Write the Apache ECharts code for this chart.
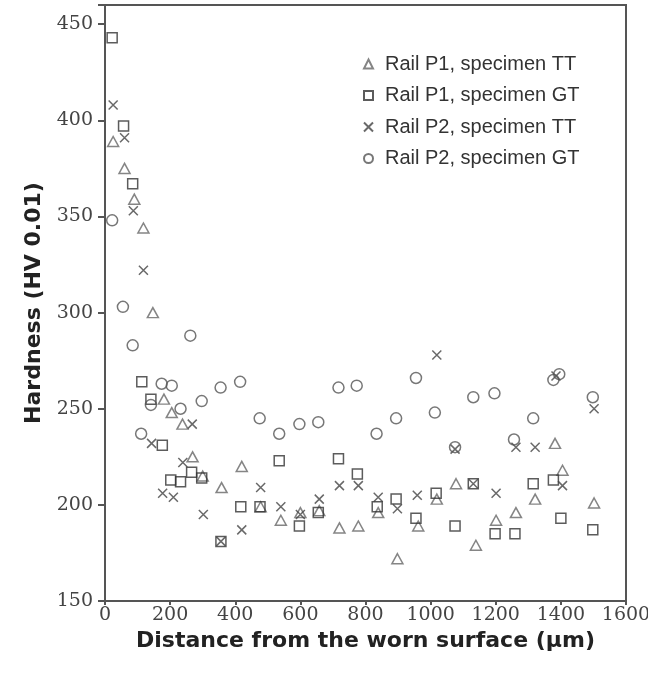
<!DOCTYPE html>
<html>
<head>
<meta charset="utf-8">
<script src="https://cdn.jsdelivr.net/npm/echarts@6/dist/echarts.min.js"></script>
<style>
  html, body { margin: 0; padding: 0; background: #fff; }
  #main { width: 648px; height: 674px; }
</style>
</head>
<body>
<div id="main"></div>
<script>
// distance (um), hardness (HV 0.01)
var p1TT = [[25,389],[60,375],[90,359],[118,344],[147,300],[181,255],[205,248],[238,242],[269,225],[300,215],
  [358,209],[420,220],[478,199],[540,192],[600,196],[658,197],[720,188],[778,189],[839,196],[898,172],
  [962,189],[1019,203],[1078,211],[1139,179],[1201,192],[1262,196],[1321,203],[1382,232],[1405,218],[1502,201]];
var p1GT = [[22,443],[57,397],[85,367],[113,264],[141,255],[176,231],[202,213],[232,212],[266,217],[297,214],
  [356,181],[417,199],[476,199],[535,223],[597,189],[655,196],[717,224],[775,216],[836,199],[894,203],
  [955,193],[1017,206],[1075,189],[1131,211],[1198,185],[1259,185],[1315,211],[1377,213],[1400,193],[1498,187]];
var p2TT = [[25,408],[60,391],[87,353],[118,322],[143,232],[177,206],[210,204],[239,222],[268,242],[302,195],
  [356,181],[420,187],[478,209],[540,199],[600,195],[658,203],[720,210],[778,210],[839,204],[898,198],
  [959,205],[1019,278],[1075,229],[1131,211],[1201,206],[1262,230],[1321,230],[1385,267],[1405,210],[1502,250]];
var p2GT = [[22,348],[55,303],[85,283],[111,237],[141,252],[174,263],[205,262],[232,250],[262,288],[297,254],
  [355,261],[415,264],[475,245],[535,237],[597,242],[655,243],[717,261],[773,262],[834,237],[894,245],
  [955,266],[1013,248],[1075,230],[1131,256],[1196,258],[1256,234],[1315,245],[1377,265],[1395,268],[1498,256]];

var seriesNames = ['Rail P1, specimen TT', 'Rail P1, specimen GT', 'Rail P2, specimen TT', 'Rail P2, specimen GT'];
var crossPath = 'path://M0,0L10,10M10,0L0,10';

function markStyle(color) {
  return { color: 'rgba(0,0,0,0)', borderColor: color, borderWidth: 1.5 };
}

var chart = echarts.init(document.getElementById('main'));
chart.setOption({
  animation: false,
  backgroundColor: '#fff',
  grid: { left: 105, right: 22, top: 5, bottom: 73, outerBoundsMode: 'none',
    show: true, borderColor: '#555', borderWidth: 2 },
  legend: {
    orient: 'vertical',
    left: 358,
    top: 49,
    itemWidth: 9,
    itemHeight: 9,
    itemGap: 11.5,
    textStyle: { fontFamily: 'Liberation Sans', fontSize: 20, lineHeight: 20, color: '#333', padding: [0, 0, 0, 7] },
    data: seriesNames
  },
  xAxis: {
    type: 'value',
    min: 0,
    max: 1600,
    interval: 200,
    name: 'Distance from the worn surface (\u03bcm)',
    nameLocation: 'middle',
    nameGap: 14,
    nameTextStyle: { fontFamily: 'DejaVu Sans', fontWeight: 'bold', fontSize: 22, color: '#222' },
    axisLine: { lineStyle: { color: '#555', width: 2 } },
    axisTick: { length: 4, lineStyle: { color: '#555', width: 2 } },
    axisLabel: { margin: 5, fontFamily: 'DejaVu Serif', fontSize: 19, color: '#444',
      formatter: function (v) { return String(v); } },
    splitLine: { show: false }
  },
  yAxis: {
    type: 'value',
    min: 150,
    max: 460,
    interval: 50,
    name: 'Hardness (HV 0.01)',
    nameLocation: 'middle',
    nameRotate: 90,
    nameGap: 60,
    nameTextStyle: { fontFamily: 'DejaVu Sans', fontWeight: 'bold', fontSize: 22, color: '#222' },
    axisLine: { lineStyle: { color: '#555', width: 2 } },
    axisTick: { length: 7, lineStyle: { color: '#555', width: 2 } },
    axisLabel: { margin: 12, fontFamily: 'DejaVu Serif', fontSize: 19, color: '#444',
      formatter: function (v) { return v > 450 ? '' : String(v); } },
    splitLine: { show: false }
  },
  series: [
    { name: seriesNames[0], type: 'scatter', symbol: 'triangle', symbolSize: [11, 10], data: p1TT, itemStyle: markStyle('#666') },
    { name: seriesNames[1], type: 'scatter', symbol: 'rect', symbolSize: 10, data: p1GT, itemStyle: markStyle('#333') },
    { name: seriesNames[2], type: 'scatter', symbol: crossPath, symbolSize: 9, data: p2TT, itemStyle: markStyle('#444') },
    { name: seriesNames[3], type: 'scatter', symbol: 'circle', symbolSize: 11, data: p2GT, itemStyle: markStyle('#555') }
  ]
});
</script>
</body>
</html>
